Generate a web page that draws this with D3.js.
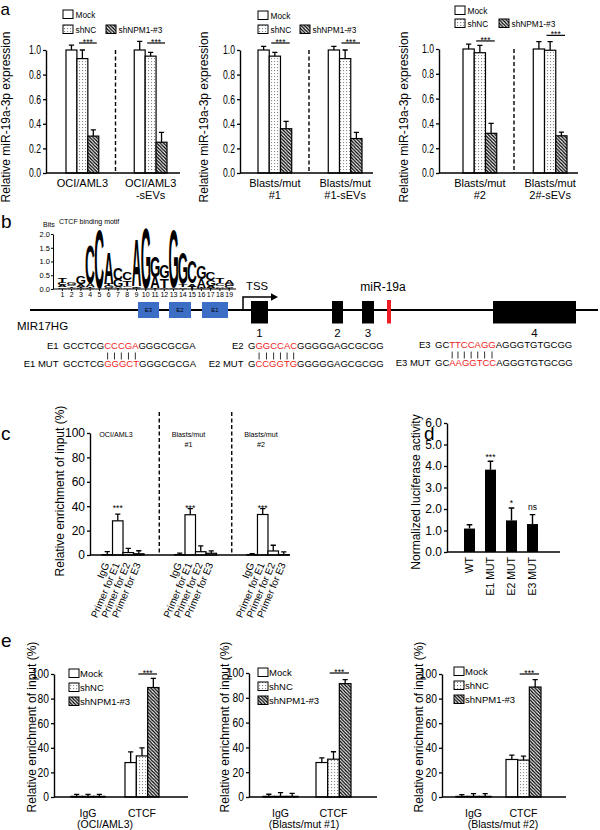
<!DOCTYPE html>
<html>
<head>
<meta charset="utf-8">
<script src="https://cdn.jsdelivr.net/npm/d3@7/dist/d3.min.js"></script>
<style>
html,body{margin:0;padding:0;background:#fff;}
svg{display:block;}
text{font-family:"Liberation Sans",Arial,Helvetica,sans-serif;fill:#000;}
</style>
</head>
<body>
<svg id="fig" width="600" height="830"></svg>
<script>
// ================= DATA =================
const seriesNames = ["Mock", "shNC", "shNPM1-#3"];

// panel a
const a1Groups = [["OCI/AML3"], ["OCI/AML3", "-sEVs"]];
const a1Mean = [[1.00, 0.93, 0.30], [1.00, 0.95, 0.25]];
const a1Err  = [[0.04, 0.07, 0.05], [0.07, 0.03, 0.08]];
const a2Groups = [["Blasts/mut", "#1"], ["Blasts/mut", "#1-sEVs"]];
const a2Mean = [[1.00, 0.95, 0.36], [1.00, 0.93, 0.28]];
const a2Err  = [[0.03, 0.03, 0.06], [0.03, 0.07, 0.05]];
const a3Groups = [["Blasts/mut", "#2"], ["Blasts/mut", "2#-sEVs"]];
const a3Mean = [[1.00, 0.97, 0.32], [1.00, 0.99, 0.30]];
const a3Err  = [[0.04, 0.06, 0.08], [0.06, 0.07, 0.03]];
const aTicks = [0, 0.2, 0.4, 0.6, 0.8, 1.0];
const aSigLevel = [[1.057, 1.057], [1.057, 1.057], [1.065, 1.11]];
const aYLabel = "Relative miR-19a-3p expression";

// panel b: CTCF motif (bits per base, positions 1..19)
const motifPos = d3.range(1, 20);
const motifA = [0.07, 0.05, 0.10, 0.12, 0.01, 1.15, 0.04, 0.06, 1.72, 0.00, 0.42, 0.04, 0.02, 0.06, 0.10, 0.32, 0.07, 0.06, 0.14];
const motifC = [0.10, 0.06, 0.03, 1.40, 2.15, 0.02, 0.42, 0.30, 0.02, 0.00, 0.00, 0.01, 0.00, 0.01, 0.80, 0.02, 0.28, 0.10, 0.07];
const motifG = [0.06, 0.09, 0.26, 0.03, 0.00, 0.08, 0.26, 0.06, 0.06, 2.20, 0.78, 0.48, 2.10, 1.15, 0.01, 0.46, 0.22, 0.05, 0.09];
const motifT = [0.20, 0.05, 0.06, 0.04, 0.00, 0.10, 0.02, 0.20, 0.02, 0.00, 0.02, 0.34, 0.01, 0.08, 0.08, 0.02, 0.05, 0.16, 0.03];
const motifTicks = [0, 0.5, 1.0, 1.5, 2.0];

// gene structure (bp along MIR17HG locus)
const geneLength = 5680;
const bindSites = [{name: "E3", start: 1080, end: 1290}, {name: "E2", start: 1390, end: 1610}, {name: "E1", start: 1720, end: 1980}];
const exons = [{name: "1", start: 2210, end: 2380}, {name: "2", start: 3020, end: 3130}, {name: "3", start: 3320, end: 3440}, {name: "4", start: 4630, end: 5460}];
const tssPos = 2130;
const mirPos = {name: "miR-19a", start: 3570, end: 3610};

// binding site sequences
const seqRows = [
  {label: "E1", pre: "GCCTCG", mut: "CCCGA", post: "GGGCGCGA"},
  {label: "E1 MUT", pre: "GCCTCG", mut: "GGGCT", post: "GGGCGCGA"},
  {label: "E2", pre: "G", mut: "GGCCAC", post: "GGGGGAGCGCGG"},
  {label: "E2 MUT", pre: "G", mut: "CCGGTG", post: "GGGGGAGCGCGG"},
  {label: "E3", pre: "GC", mut: "TTCCAGG", post: "AGGGTGTGCGG"},
  {label: "E3 MUT", pre: "GC", mut: "AAGGTCC", post: "AGGGTGTGCGG"}
];

// panel c
const cGroups = [["OCI/AML3"], ["Blasts/mut", "#1"], ["Blasts/mut", "#2"]];
const cPrimers = ["IgG", "Primer for E1", "Primer for E2", "Primer for E3"];
const cMean = [[0.3, 28.0, 2.0, 1.0], [0.3, 33.0, 2.7, 1.4], [0.3, 33.2, 3.3, 0.3]];
const cErr  = [[2.5, 5.5, 3.5, 2.5], [1.2, 5.0, 4.7, 1.9], [0.9, 4.8, 4.7, 2.2]];
const cSig  = ["", "***", "", ""];
const cSigLevel = 36;
const pctTicks = [0, 20, 40, 60, 80, 100];
const enrichLabel = "Relative enrichment of input (%)";

// panel d
const dCats = ["WT", "E1 MUT", "E2 MUT", "E3 MUT"];
const dMean = [1.09, 3.83, 1.47, 1.30];
const dErr  = [0.18, 0.39, 0.58, 0.44];
const dSig  = ["", "***", "*", "ns"];
const dTicks = [0, 1, 2, 3, 4, 5, 6];

// panel e
const eCats = ["IgG", "CTCF"];
const e1Mean = [[0.5, 0.5, 0.5], [28.0, 33.4, 89.0]];
const e1Err  = [[1.7, 1.7, 1.7], [8.7, 6.6, 7.5]];
const e2Mean = [[0.5, 0.5, 0.5], [27.8, 30.5, 91.4]];
const e2Err  = [[1.7, 3.0, 2.5], [3.8, 6.0, 3.2]];
const e3Mean = [[0.5, 0.5, 0.5], [30.5, 30.0, 89.4]];
const e3Err  = [[1.5, 2.2, 2.2], [3.5, 3.2, 6.0]];
const eTitles = ["(OCI/AML3)", "(Blasts/mut #1)", "(Blasts/mut #2)"];
const eSigLevel = 100;

// ================= DRAWING =================
const FONT = '"Liberation Sans", Arial, Helvetica, sans-serif';
const RED = "#ee1c24";
const svg = d3.select("#fig");
const defs = svg.append("defs");

const dots = defs.append("pattern").attr("id", "dots").attr("patternUnits", "userSpaceOnUse").attr("width", 3).attr("height", 3);
dots.append("rect").attr("width", 3).attr("height", 3).attr("fill", "#fff");
dots.append("rect").attr("x", 1).attr("y", 1).attr("width", 1.1).attr("height", 1.1).attr("fill", "#8a8a8a");

const hatch = defs.append("pattern").attr("id", "hatch").attr("patternUnits", "userSpaceOnUse").attr("width", 3.4).attr("height", 3.4);
hatch.append("rect").attr("width", 3.4).attr("height", 3.4).attr("fill", "#fff");
hatch.append("path").attr("d", "M-1,-1L4.4,4.4M-1,2.4L1,4.4M2.4,-1L4.4,1").attr("stroke", "#000").attr("stroke-width", 1.35);

const fills3 = ["#fff", "url(#dots)", "url(#hatch)"];

function txt(x, y, s, fs, o = {}) {
  const t = svg.append("text").attr("x", x).attr("y", y).attr("font-size", fs).text(s);
  if (o.anchor) t.attr("text-anchor", o.anchor);
  if (o.fill) t.attr("fill", o.fill);
  if (o.weight) t.attr("font-weight", o.weight);
  if (o.rot != null) t.attr("transform", `rotate(${o.rot},${x},${y})`);
  if (o.dy) t.attr("dy", o.dy);
  return t;
}

function barChart(o) {
  const g = svg.append("g");
  const nS = o.means[0].length;
  const x = d3.scaleBand().domain(d3.range(o.means.length)).range(o.xr).paddingInner(o.pad).paddingOuter(0);
  const xi = d3.scaleBand().domain(d3.range(nS)).range([0, x.bandwidth()]);
  const y = d3.scaleLinear().domain(o.yd).range(o.yr);
  const recs = [];
  o.means.forEach((grp, gi) => grp.forEach((v, si) => recs.push({gi, si, v, e: o.errs[gi][si]})));
  const bw = xi.bandwidth();
  const bx = d => x(d.gi) + xi(d.si);
  const cap = o.cap || 2.6;
  g.selectAll("path.eb").data(recs).join("path").attr("class", "eb")
    .attr("d", d => { const cx = bx(d) + bw / 2, y0 = y(d.v), y1 = y(d.v + d.e); return `M${cx},${y0}V${y1}M${cx - cap},${y1}H${cx + cap}`; })
    .attr("stroke", "#000").attr("stroke-width", 1.3).attr("fill", "none");
  g.selectAll("rect.bar").data(recs).join("rect").attr("class", "bar")
    .attr("x", bx).attr("y", d => y(d.v)).attr("width", bw).attr("height", d => y(0) - y(d.v))
    .attr("fill", d => o.fills[d.si]).attr("stroke", "#000").attr("stroke-width", 1.2);
  const ax = g.append("g").attr("transform", `translate(${o.ax0},0)`)
    .call(d3.axisLeft(y).tickValues(o.ticks).tickFormat(o.fmt).tickSize(3).tickSizeOuter(0).tickPadding(2));
  ax.attr("font-family", FONT).attr("font-size", o.tickFs || 12);
  ax.select(".domain").attr("stroke-width", 1.4);
  ax.selectAll(".tick line").attr("stroke-width", 1.3);
  ax.selectAll(".tick text").attr("fill", "#000");
  if (o.condense) {
    ax.selectAll(".tick text").attr("transform", `scale(${o.condense},1)`).attr("x", -5 / o.condense);
  }
  g.append("line").attr("x1", o.ax0).attr("x2", o.ax1).attr("y1", y(0)).attr("y2", y(0)).attr("stroke", "#000").attr("stroke-width", 1.4);
  return {g, x, xi, y, bw, recs};
}

function ylab(x, yc, s, fs = 12) {
  txt(x, yc, s, fs, {anchor: "middle", rot: -90});
}

function sigBar(x1, x2, yy) {
  svg.append("line").attr("x1", x1).attr("x2", x2).attr("y1", yy).attr("y2", yy).attr("stroke", "#000").attr("stroke-width", 1.2);
  txt((x1 + x2) / 2, yy + 1.6, "***", 8.5, {anchor: "middle"});
}

// ---------- panel letters ----------
txt(0.5, 14.5, "a", 17);
txt(1, 228, "b", 19);
txt(1, 440, "c", 19);
txt(424, 440, "d", 19);
txt(1, 647, "e", 19);

// ---------- panel a ----------
const aCfg = [
  {groups: a1Groups, means: a1Mean, errs: a1Err, sig: aSigLevel[0], xr: [66, 167], yr: [173, 50], ax0: 46, ax1: 180, ylabX: 9.5, leg: [[63, 10], [63, 25], [106, 25]]},
  {groups: a2Groups, means: a2Mean, errs: a2Err, sig: aSigLevel[1], xr: [258, 362], yr: [173, 50], ax0: 240, ax1: 373, ylabX: 208, leg: [[258, 11], [258, 25], [300, 25]]},
  {groups: a3Groups, means: a3Mean, errs: a3Err, sig: aSigLevel[2], xr: [463, 567], yr: [173, 49], ax0: 439, ax1: 578, ylabX: 408, leg: [[455, 6], [455, 19], [499, 19]]}
];
aCfg.forEach(c => {
  const ch = barChart({means: c.means, errs: c.errs, xr: c.xr, pad: 0.52, yd: [0, 1], yr: c.yr, ax0: c.ax0, ax1: c.ax1,
    ticks: aTicks, fmt: d3.format(".1f"), fills: fills3, condense: 0.72});
  const {x, xi, y, bw} = ch;
  const mid = (x(0) + x.bandwidth() + x(1)) / 2 - 1;
  svg.append("line").attr("x1", mid).attr("x2", mid).attr("y1", y(1)).attr("y2", y(0))
    .attr("stroke", "#000").attr("stroke-width", 1.4).attr("stroke-dasharray", "4,2.5");
  c.groups.forEach((lines, gi) => lines.forEach((s, li) =>
    txt(x(gi) + x.bandwidth() / 2, 187 + li * 12, s, 11, {anchor: "middle"})));
  c.sig.forEach((lv, gi) => {
    sigBar(x(gi) + xi(1) + 2, x(gi) + xi(2) + bw - 2, y(lv));
  });
  seriesNames.forEach((s, i) => {
    const [lx, ly] = c.leg[i];
    svg.append("rect").attr("x", lx).attr("y", ly).attr("width", 10).attr("height", 8.5)
      .attr("fill", fills3[i]).attr("stroke", "#000").attr("stroke-width", 1);
    txt(lx + 12.5, ly + 7.8, s, 8.3);
  });
  ylab(c.ylabX, 117, aYLabel);
});

// ---------- panel b: motif logo ----------
const LOGO_COL = {A: "#2f9a46", C: "#243f8f", G: "#f4a52a", T: "#e0262c"};
const lxs = d3.scaleBand().domain(motifPos).range([57.7, 57.7 + 19 * 9.27]);
const lys = d3.scaleLinear().domain([0, 2]).range([289, 234]);
const lax = svg.append("g").attr("transform", "translate(53,0)")
  .call(d3.axisLeft(lys).tickValues(motifTicks).tickFormat(d3.format(".1f")).tickSize(2).tickSizeOuter(0).tickPadding(1));
lax.attr("font-family", FONT).attr("font-size", 7.5);
lax.selectAll(".tick text").attr("fill", "#000");
lax.select(".domain").attr("stroke-width", 1);
const lbx = svg.append("g").attr("transform", "translate(0,289)")
  .call(d3.axisBottom(lxs).tickSize(2).tickPadding(1));
lbx.attr("font-family", FONT).attr("font-size", 7);
lbx.select(".domain").remove();
lbx.selectAll(".tick text").attr("fill", "#000");
svg.append("line").attr("x1", 53).attr("x2", 236).attr("y1", 289).attr("y2", 289).attr("stroke", "#000").attr("stroke-width", 1);
txt(43, 227, "Bits", 7);
txt(59, 224, "CTCF binding motif", 7);

const mctx = document.createElement("canvas").getContext("2d");
mctx.font = 'bold 100px "Liberation Sans", Arial, sans-serif';
const logoG = svg.append("g");
motifPos.forEach((p, i) => {
  const stack = [
    {L: "A", h: motifA[i]}, {L: "C", h: motifC[i]}, {L: "G", h: motifG[i]}, {L: "T", h: motifT[i]}
  ].filter(d => d.h > 0).sort((a, b) => a.h - b.h);
  let cum = 0;
  const w = lxs.bandwidth() * 0.97;
  const x0 = lxs(p) + (lxs.bandwidth() - w) / 2;
  stack.forEach(d => {
    const yb = lys(cum), yt = lys(cum + d.h);
    cum += d.h;
    const h = yb - yt;
    if (h < 0.4) return;
    const m = mctx.measureText(d.L);
    const inkW = m.actualBoundingBoxLeft + m.actualBoundingBoxRight;
    const inkH = m.actualBoundingBoxAscent + m.actualBoundingBoxDescent;
    logoG.append("text").text(d.L).attr("font-size", 100).attr("font-weight", "bold")
      .attr("fill", LOGO_COL[d.L])
      .attr("transform", `translate(${x0},${yt}) scale(${w / inkW},${h / inkH}) translate(${m.actualBoundingBoxLeft},${m.actualBoundingBoxAscent})`);
  });
});

// ---------- gene structure ----------
const gx = d3.scaleLinear().domain([0, geneLength]).range([30, 598]);
const LINE_Y = 310;
svg.append("line").attr("x1", gx(0)).attr("x2", gx(geneLength)).attr("y1", LINE_Y).attr("y2", LINE_Y).attr("stroke", "#000").attr("stroke-width", 2);
svg.selectAll("rect.site").data(bindSites).join("rect").attr("class", "site")
  .attr("x", d => gx(d.start)).attr("width", d => gx(d.end) - gx(d.start)).attr("y", 302).attr("height", 16)
  .attr("fill", "#3d6ec6");
bindSites.forEach(d => txt((gx(d.start) + gx(d.end)) / 2, 312.3, d.name, 6, {anchor: "middle", fill: "#fff"}));
svg.selectAll("rect.exon").data(exons).join("rect").attr("class", "exon")
  .attr("x", d => gx(d.start)).attr("width", d => gx(d.end) - gx(d.start)).attr("y", 301).attr("height", 22.5)
  .attr("fill", "#000");
exons.forEach(d => txt((gx(d.start) + gx(d.end)) / 2, 337, d.name, 11.5, {anchor: "middle"}));
svg.append("rect").attr("x", gx(mirPos.start)).attr("width", gx(mirPos.end) - gx(mirPos.start)).attr("y", 300).attr("height", 23.5).attr("fill", RED);
txt((gx(mirPos.start) + gx(mirPos.end)) / 2 - 6, 291, mirPos.name, 12, {anchor: "middle", fill: RED});
const tx = gx(tssPos);
svg.append("path").attr("d", `M${tx},${LINE_Y}V297H${tx + 29}`).attr("stroke", "#000").attr("stroke-width", 1.5).attr("fill", "none");
svg.append("path").attr("d", `M${tx + 28},293.3L${tx + 35},297L${tx + 28},300.7Z`).attr("fill", "#000");
txt(tx + 14, 290, "TSS", 11.3, {anchor: "middle"});
txt(17, 330, "MIR17HG", 11.5);

const seqPos = [[63, 349], [63, 367], [248, 349], [248, 367], [435, 348], [435, 366]];
seqRows.forEach((r, i) => {
  const [sx, sy] = seqPos[i];
  txt(sx - 4.5, sy, r.label, 9.5, {anchor: "end"});
  const t = svg.append("text").attr("x", sx).attr("y", sy).attr("font-size", 9.5);
  t.append("tspan").text(r.pre);
  t.append("tspan").attr("fill", RED).text(r.mut);
  t.append("tspan").text(r.post);
  if (i % 2 === 0) {
    const node = t.node();
    for (let k = 0; k < r.mut.length; k++) {
      const idx = r.pre.length + k;
      const a = node.getStartPositionOfChar(idx).x, b = node.getEndPositionOfChar(idx).x;
      const cx = (a + b) / 2;
      svg.append("line").attr("x1", cx).attr("x2", cx).attr("y1", sy + 3.5).attr("y2", sy + 10.5).attr("stroke", "#000").attr("stroke-width", 0.8);
    }
  }
});

// ---------- panel c ----------
{
  const ch = barChart({means: cMean, errs: cErr, xr: [102, 289], pad: 0.42, yd: [0, 100], yr: [555, 433], ax0: 90, ax1: 290,
    ticks: pctTicks, fmt: d3.format("d"), fills: ["#fff", "#fff", "#fff", "#fff"]});
  const {x, xi, y, bw} = ch;
  [0, 1].forEach(k => {
    const mid = (x(k) + x.bandwidth() + x(k + 1)) / 2;
    svg.append("line").attr("x1", mid).attr("x2", mid).attr("y1", 412).attr("y2", y(0))
      .attr("stroke", "#000").attr("stroke-width", 1.4).attr("stroke-dasharray", "4,2.5");
  });
  cGroups.forEach((lines, gi) => {
    lines.forEach((s, li) => txt(x(gi) + x.bandwidth() / 2 - 7, 437 + li * 9.5, s, 7.2, {anchor: "middle"}));
    cPrimers.forEach((p, si) => {
      const cx = x(gi) + xi(si) + bw / 2;
      txt(cx - 1, 563, p, 10, {anchor: "end", rot: -67, dy: "0.35em"});
      if (cSig[si]) txt(cx, y(cSigLevel), cSig[si], 8.5, {anchor: "middle"});
    });
  });
  ylab(64, 491, enrichLabel);
}

// ---------- panel d ----------
{
  const x = d3.scaleBand().domain(dCats).range([464, 538]).paddingInner(0.476);
  const y = d3.scaleLinear().domain([0, 6]).range([552, 423]);
  const g = svg.append("g");
  const recs = dCats.map((c, i) => ({c, v: dMean[i], e: dErr[i], s: dSig[i]}));
  g.selectAll("path").data(recs).join("path")
    .attr("d", d => { const cx = x(d.c) + x.bandwidth() / 2; return `M${cx},${y(d.v)}V${y(d.v + d.e)}M${cx - 2.8},${y(d.v + d.e)}H${cx + 2.8}`; })
    .attr("stroke", "#000").attr("stroke-width", 1.4);
  g.selectAll("rect").data(recs).join("rect")
    .attr("x", d => x(d.c)).attr("y", d => y(d.v)).attr("width", x.bandwidth()).attr("height", d => y(0) - y(d.v)).attr("fill", "#000");
  const ax = g.append("g").attr("transform", "translate(447,0)")
    .call(d3.axisLeft(y).tickValues(dTicks).tickFormat(d3.format(".1f")).tickSize(3).tickSizeOuter(0).tickPadding(2));
  ax.attr("font-family", FONT).attr("font-size", 12);
  ax.select(".domain").attr("stroke-width", 1.4);
  ax.selectAll(".tick line").attr("stroke-width", 1.3);
  ax.selectAll(".tick text").attr("fill", "#000");
  g.append("line").attr("x1", 447).attr("x2", 560).attr("y1", y(0)).attr("y2", y(0)).attr("stroke", "#000").attr("stroke-width", 1.4);
  recs.forEach(d => {
    const cx = x(d.c) + x.bandwidth() / 2;
    txt(cx, 557, d.c, 10.5, {anchor: "end", rot: -90, dy: "0.35em"});
    if (d.s === "***") txt(cx, y(d.v + d.e) - 1, d.s, 8.5, {anchor: "middle"});
    else if (d.s === "*") txt(cx, y(d.v + d.e) - 1.5, d.s, 8.5, {anchor: "middle"});
    else if (d.s) txt(cx, y(d.v + d.e) - 5, d.s, 8.5, {anchor: "middle"});
  });
  ylab(420, 492, "Normalized luciferase activity");
}

// ---------- panel e ----------
const eCfg = [
  {means: e1Mean, errs: e1Err, xr: [71, 159], pad: 0.37, yr: [797, 674], ax0: 54, ax1: 188, ylabX: 36, leg: 69, legY: 669, title: eTitles[0], tx: 105},
  {means: e2Mean, errs: e2Err, xr: [263, 351], pad: 0.34, yr: [797, 673], ax0: 249, ax1: 377, ylabX: 229, leg: 258, legY: 668, title: eTitles[1], tx: 304},
  {means: e3Mean, errs: e3Err, xr: [456, 541], pad: 0.30, yr: [797, 674], ax0: 442, ax1: 566, ylabX: 423, leg: 454, legY: 667, title: eTitles[2], tx: 503}
];
eCfg.forEach(c => {
  const ch = barChart({means: c.means, errs: c.errs, xr: c.xr, pad: c.pad, yd: [0, 100], yr: c.yr, ax0: c.ax0, ax1: c.ax1,
    ticks: pctTicks, fmt: d3.format("d"), fills: fills3, condense: 0.86});
  const {x, xi, y, bw} = ch;
  eCats.forEach((s, gi) => txt(x(gi) + x.bandwidth() / 2, 817, s, 10.5, {anchor: "middle"}));
  txt(c.tx, 828, c.title, 10.5, {anchor: "middle"});
  sigBar(x(1) + xi(1) + 2, x(1) + xi(2) + bw - 2, y(eSigLevel));
  seriesNames.forEach((s, i) => {
    const ly = c.legY + i * 14;
    svg.append("rect").attr("x", c.leg).attr("y", ly).attr("width", 10).attr("height", 8.5)
      .attr("fill", fills3[i]).attr("stroke", "#000").attr("stroke-width", 1);
    txt(c.leg + 11, ly + 8, s, 9.5);
  });
  ylab(c.ylabX, 727, enrichLabel);
});
</script>
</body>
</html>
